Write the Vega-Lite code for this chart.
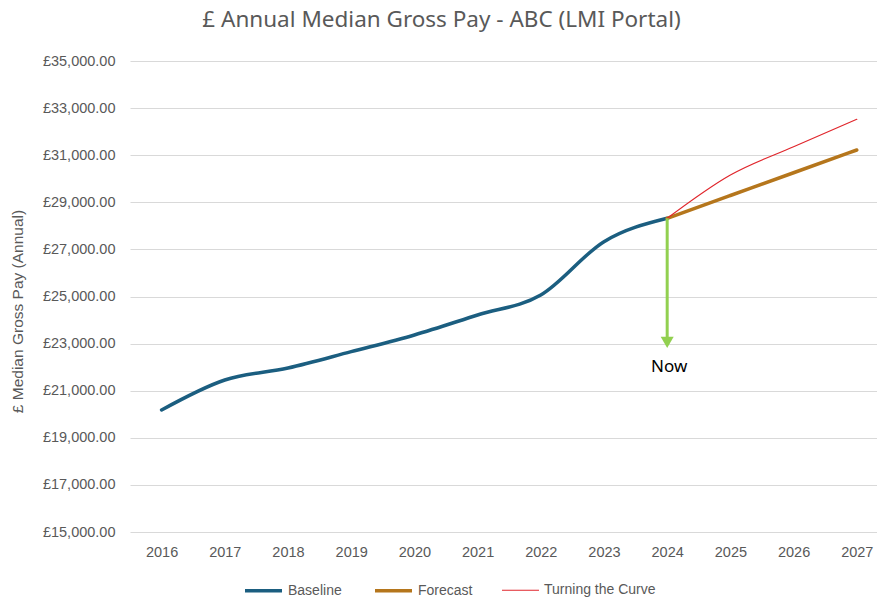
{
  "$schema": "https://vega.github.io/schema/vega-lite/v6.json",
  "autosize": "none",
  "width": 747,
  "height": 471,
  "padding": {"left": 130, "top": 61, "right": 0, "bottom": 69},
  "background": "white",
  "title": {
    "text": "£ Annual Median Gross Pay - ABC (LMI Portal)",
    "anchor": "middle",
    "frame": "bounds",
    "offset": 22,
    "fontSize": 22.5,
    "font": "Noto Sans",
    "fontWeight": "normal",
    "color": "#595959",
    "dx": -2
  },
  "config": {
    "view": {"stroke": null},
    "font": "Liberation Sans",
    "axis": {"labelColor": "#595959", "titleColor": "#595959", "labelFontSize": 14.5, "titleFontSize": 15.5, "titleFontWeight": "normal"}
  },
  "layer": [
    {
      "data": {
        "values": [
          {"year": 2016, "value": 20181, "series": "Baseline"},
          {"year": 2017, "value": 21455, "series": "Baseline"},
          {"year": 2018, "value": 21965, "series": "Baseline"},
          {"year": 2019, "value": 22657, "series": "Baseline"},
          {"year": 2020, "value": 23366, "series": "Baseline"},
          {"year": 2021, "value": 24215, "series": "Baseline"},
          {"year": 2022, "value": 25064, "series": "Baseline"},
          {"year": 2023, "value": 27327, "series": "Baseline"},
          {"year": 2024, "value": 28321, "series": "Baseline"},
          {"year": 2024, "value": 28321, "series": "Forecast"},
          {"year": 2025, "value": 29288, "series": "Forecast"},
          {"year": 2026, "value": 30255, "series": "Forecast"},
          {"year": 2027, "value": 31221, "series": "Forecast"},
          {"year": 2024, "value": 28321, "series": "Turning the Curve"},
          {"year": 2025, "value": 30159, "series": "Turning the Curve"},
          {"year": 2026, "value": 31361, "series": "Turning the Curve"},
          {"year": 2027, "value": 32524, "series": "Turning the Curve"}
        ]
      },
      "mark": {"type": "line", "interpolate": "monotone", "strokeCap": "round"},
      "encoding": {
        "x": {
          "field": "year", "type": "quantitative",
          "scale": {"domain": [2015.5, 2027.32], "nice": false, "zero": false},
          "axis": {"values": [2016,2017,2018,2019,2020,2021,2022,2023,2024,2025,2026,2027], "format": "d", "grid": false, "domain": false, "ticks": false, "labelPadding": 13, "title": null, "labelFlush": false}
        },
        "y": {
          "field": "value", "type": "quantitative",
          "scale": {"domain": [15000, 35000], "nice": false, "zero": false},
          "axis": {"values": [15000,17000,19000,21000,23000,25000,27000,29000,31000,33000,35000], "labelExpr": "'£' + format(datum.value, ',.2f')", "grid": true, "gridColor": "#d9d9d9", "domain": false, "ticks": false, "labelPadding": 15, "title": "£ Median Gross Pay (Annual)", "titleX": -105, "titleY": 250, "titleAngle": 270, "titleBaseline": "bottom", "titleAlign": "center"}
        },
        "color": {
          "field": "series", "type": "nominal",
          "scale": {"domain": ["Baseline", "Forecast", "Turning the Curve"], "range": ["#1b5e80", "#b5761c", "#e0262c"]},
          "legend": {"title": null, "orient": "none", "direction": "horizontal", "legendX": 113, "legendY": 509, "symbolType": "stroke", "symbolSize": 1369, "labelFontSize": 14, "labelColor": "#595959", "labelOffset": 4, "columnPadding": 26}
        },
        "strokeWidth": {
          "field": "series", "type": "ordinal",
          "scale": {"type": "ordinal", "domain": ["Baseline", "Forecast", "Turning the Curve"], "range": [3.5, 3.5, 1.2]},
          "legend": null
        }
      }
    },
    {
      "data": {"values": [{"year": 2024, "top": 28321, "bottom": 23052}]},
      "mark": {"type": "rule", "color": "#92d050", "strokeWidth": 3},
      "encoding": {
        "x": {"field": "year", "type": "quantitative"},
        "y": {"field": "top", "type": "quantitative"},
        "y2": {"field": "bottom"}
      }
    },
    {
      "data": {"values": [{"year": 2024, "head": 23052}]},
      "mark": {"type": "point", "shape": "triangle-down", "filled": true, "color": "#92d050", "size": 169, "opacity": 1},
      "encoding": {
        "x": {"field": "year", "type": "quantitative"},
        "y": {"field": "head", "type": "quantitative"}
      }
    },
    {
      "data": {"values": [{"year": 2024, "pos": 22020, "label": "Now"}]},
      "mark": {"type": "text", "fontSize": 17, "color": "#000000", "baseline": "middle", "align": "center", "dx": 2, "font": "Noto Sans"},
      "encoding": {
        "x": {"field": "year", "type": "quantitative"},
        "y": {"field": "pos", "type": "quantitative"},
        "text": {"field": "label"}
      }
    }
  ]
}
